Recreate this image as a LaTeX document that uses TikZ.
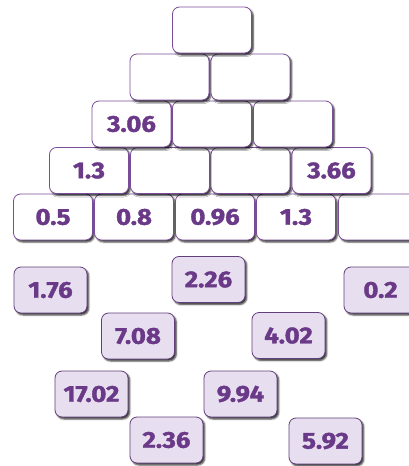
\documentclass[tikz,border=0pt]{standalone}
\usepackage{fontspec}
\setmainfont{Fira Sans}
\newfontfamily\numfont[FakeStretch=1.12,FakeBold=1.6]{Fira Sans Bold}
\usetikzlibrary{shadows.blur}
\definecolor{pborder}{HTML}{7A4D98}
\definecolor{ptext}{HTML}{6A3A88}
\definecolor{pfill}{HTML}{E7DFF0}
\tikzset{
  x=1pt, y=-1pt,
  basebox/.style={rectangle, rounded corners=7pt, draw=pborder, line width=0.8pt,
    text=ptext, font=\numfont\fontsize{23}{26}\selectfont, inner sep=0pt,
    blur shadow={shadow xshift=1.8pt, shadow yshift=-2pt, shadow blur radius=1.6pt, shadow opacity=80}},
  pbox/.style={basebox, fill=white, minimum width=79pt, minimum height=46pt},
  abox/.style={basebox, fill=pfill, draw=pborder!80!black, minimum width=73pt, minimum height=46pt},
}
\begin{document}
\begin{tikzpicture}
\useasboundingbox (0,0) rectangle (409,466);
\begin{scope}
\clip (0,0) rectangle (409,466);
% row 5
\node[pbox] (e1) at (53,217) {0.5};
\node[pbox] (e2) at (134,217) {0.8};
\node[pbox] (e3) at (215,217) {0.96};
\node[pbox] (e4) at (296,217) {1.3};
\node[pbox] (e5) at (378,217) {};
% row 4
\node[pbox] (d1) at (89,170.5) {1.3};
\node[pbox] (d2) at (170,170.5) {};
\node[pbox] (d3) at (250.5,170.5) {};
\node[pbox] (d4) at (331.5,170.5) {3.66};
% row 3
\node[pbox] (c1) at (131.5,124) {3.06};
\node[pbox] (c2) at (212,124) {};
\node[pbox] (c3) at (293,124) {};
% row 2
\node[pbox] (b1) at (169.5,77) {};
\node[pbox] (b2) at (250.5,77) {};
% top
\node[pbox] (a1) at (212,30) {};
% answer boxes
\node[abox] (n1) at (50.5,290) {1.76};
\node[abox] (n2) at (208.5,279.5) {2.26};
\node[abox] (n3) at (380.5,290) {0.2};
\node[abox] (n4) at (138,336) {7.08};
\node[abox] (n5) at (288.5,335.5) {4.02};
\node[abox] (n6) at (91.5,394) {17.02};
\node[abox] (n7) at (240.5,394) {9.94};
\node[abox] (n8) at (166.5,440) {2.36};
\node[abox] (n9) at (325.5,441) {5.92};
\end{scope}
\end{tikzpicture}
\end{document}
